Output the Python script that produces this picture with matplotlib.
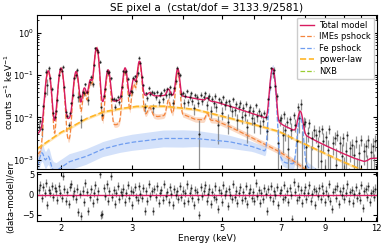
import numpy as np
import matplotlib
matplotlib.use("Agg")
import matplotlib.pyplot as plt

# ---- values (keV, counts s^-1 keV^-1) ----
pl_e = [1.76, 2.0, 2.11, 2.31, 2.54, 2.79, 3.07, 3.58, 4.3, 5.2, 6.23, 6.9, 7.7, 9.7, 10.5, 11.2, 12.0]
pl_v = [0.0019, 0.0044, 0.0057, 0.0093, 0.0134, 0.016, 0.0182, 0.0185, 0.0155, 0.0098, 0.0062, 0.0047, 0.0028, 0.001, 0.00072, 0.00056, 0.00045]

ime_e = [1.76, 1.94, 2.09, 2.23, 2.42, 2.55, 2.75, 2.97, 3.2, 3.47, 3.6, 3.75, 4.04, 4.3, 4.82, 5.2, 5.71, 6.23, 6.9, 7.7, 8.5, 12.0]
ime_v = [0.0014, 0.0024, 0.0028, 0.0038, 0.006, 0.0062, 0.0068, 0.0098, 0.012, 0.0105, 0.011, 0.012, 0.0115, 0.009, 0.0085, 0.0062, 0.004, 0.0026, 0.0016, 0.0008, 0.0004, 0.00005]
ime_line_e = [1.865, 2.006, 2.185, 2.29, 2.37, 2.455, 2.62, 2.885, 3.03, 3.13, 3.32, 3.69, 3.89, 4.6]
ime_line_amp = [0.12, 0.138, 0.11, 0.035, 0.06, 0.42, 0.11, 0.12, 0.05, 0.18, 0.006, 0.014, 0.11, 0.004]
ime_line_sig = [0.022, 0.023, 0.024, 0.023, 0.024, 0.025, 0.026, 0.028, 0.028, 0.03, 0.032, 0.032, 0.034, 0.036]

fe_e = [1.76, 1.95, 2.1, 2.31, 2.54, 2.8, 3.0, 3.58, 4.3, 5.2, 5.9, 6.3, 6.9, 7.2, 8.1, 8.5, 9.0, 12.0]
fe_v = [0.0007, 0.00055, 0.0009, 0.0012, 0.0018, 0.0023, 0.0026, 0.0032, 0.0032, 0.0027, 0.0021, 0.0017, 0.001, 0.00085, 0.0007, 0.0005, 0.00035, 0.0001]
fe_line_e = [1.80, 1.865, 6.67, 6.97, 7.8]
fe_line_amp = [0.0008, 0.0006, 0.135, 0.0002, 0.0098]
fe_line_sig = [0.02, 0.02, 0.075, 0.04, 0.09]

nxb_e = [1.76, 6.0, 9.0, 10.5, 11.2, 11.6, 12.0]
nxb_v = [0.0001, 0.00012, 0.00015, 0.00012, 0.00015, 0.0004, 0.0005]

fe_band_e = [1.76, 2.5, 3.0, 4.0, 5.0, 6.0, 8.0, 12.0]
fe_band = [1.6, 1.5, 1.55, 1.6, 1.45, 1.3, 1.3, 1.3]

relerr_e = [1.76, 1.9, 2.2, 2.6, 3.0, 3.5, 4.0, 5.0, 6.0, 6.6, 7.0, 8.0, 9.0, 10.0, 11.0, 12.0]
relerr = [0.3, 0.15, 0.12, 0.11, 0.11, 0.13, 0.15, 0.2, 0.25, 0.12, 0.35, 0.45, 0.6, 0.75, 0.9, 1.0]

# (data-model)/err per bin, left to right
resid = [1.2, 2.4, -0.8, 1.9, 0.5, 2.8, -2.6, 1.1, 0.3, 2.2, -0.5, 1.6, 0.8, -1.4, 2.0, 0.4, -0.9, 4.6, 1.3, -1.7,
         0.6, -2.3, 1.8, 2.7, -0.4, 0.9, -1.2, 1.5, -4.4, 0.2, -5.4, 1.0, -1.8, 2.9, 0.7, -4.0, -0.6, 1.4, -2.1, 0.5,
         2.3, -1.0, 0.8, 5.0, -5.2, -4.8, 1.7, -0.3, 2.5, -1.5, 0.9, 4.6, -0.7, 1.2, -2.4, 0.4, 2.1, -1.1, 0.6, -0.2,
         1.5, -1.9, 0.3, 2.4, -0.8, 1.0, -2.7, 0.7, 1.9, -0.5, -1.3, 2.2, 0.1, -0.9, 1.6, -4.2, 0.8, -1.6, 2.6, -0.4,
         0.9, -4.0, 1.3, -0.6, 2.0, -2.2, 0.5, 1.1, -1.4, 2.7, -0.3, 0.6, -1.8, 1.9, 0.2, -2.5, 1.4, -0.1, 0.8, -1.2,
         2.1, -0.7, 1.0, -2.0, 0.4, 2.5, -1.5, 0.3, 1.7, -0.9, -2.6, 1.2, 0.6, -1.1, -5.0, 1.8, -0.4, 0.9, 2.3, -1.7,
         0.2, 1.5, -2.3, 0.7, -0.5, 2.0, -1.2, -3.6, 1.1, 0.5, -1.9, 2.4, -0.2, 0.8, -2.8, 1.3, 0.0, -1.0, 2.6, -0.6,
         1.0, -2.1, 0.4, 1.8, -1.3, 0.7, -0.8, 2.2, -2.4, 0.3, 1.5, -0.9, 0.6, -1.6, 2.9, -0.3, 1.2, -2.0, 0.5, -1.1,
         1.7, 0.2, -4.0, 1.4, -0.7, 2.1, -1.5, 0.8, -0.2, 1.9, -2.6, 0.4, 1.1, -1.2, 2.3, -0.5, 0.9, -1.8, 1.6, -0.1,
         -6.0, 3.0, 0.7, -1.4, 2.0, -0.6, 1.2, -2.2, 0.3, 1.8, -1.0, 0.5, 2.4, -1.7, 0.1, 1.3, -2.5, 0.8, -0.4, 1.6,
         -1.1, 2.2, 0.4, -1.9, 1.0, -0.3, 2.7, -1.5, -3.6, 0.6, 1.4, -0.8, 2.0, -2.3, 0.9, -0.2, 1.7, -1.2, 0.3, 2.5,
         -1.6, 0.7, 1.1, -2.0, 0.2, 1.9, -0.9, 0.5, -1.4, 2.3, -3.3, 0.8, 1.3, -0.6, 2.0, -1.8, 0.4, 1.0, -0.7, 1.5]

C_TOT = "#d81b60"
C_IME = "#f4843c"
C_FE = "#6f9df0"
C_PL = "#ffb627"
C_NXB = "#9acd32"


def logint(E, xe, xv):
    return 10 ** np.interp(np.log10(E), np.log10(xe), np.log10(xv))


def component(E, ce, cv, le=(), la=(), ls=()):
    y = logint(E, ce, cv)
    for c, a, s in zip(le, la, ls):
        y = y + a * np.exp(-0.5 * ((E - c) / s) ** 2)
    return y


def models(E):
    pl = logint(E, pl_e, pl_v)
    ime = component(E, ime_e, ime_v, ime_line_e, ime_line_amp, ime_line_sig)
    fe = component(E, fe_e, fe_v, fe_line_e, fe_line_amp, fe_line_sig)
    nxb = logint(E, nxb_e, nxb_v)
    return ime, fe, pl, nxb, ime + fe + pl + nxb


E = np.geomspace(1.74, 12.2, 3000)
ime, fe, pl, nxb, tot = models(E)

Eb = np.geomspace(1.77, 11.95, len(resid))
r = np.array(resid)
tot_b = models(Eb)[4]
err_b = tot_b * np.interp(Eb, relerr_e, relerr)
data_b = tot_b + r * err_b

fig = plt.figure(figsize=(3.88, 2.46), dpi=100)
ax = fig.add_axes([0.0954, 0.313, 0.876, 0.626])
axr = fig.add_axes([0.0954, 0.1016, 0.876, 0.199], sharex=ax)

fb = np.interp(E, fe_band_e, fe_band)
ax.fill_between(E, fe / fb, fe * fb, color=C_FE, alpha=0.3, lw=0)
ax.fill_between(E, ime / 1.16, ime * 1.16, color=C_IME, alpha=0.3, lw=0)
ax.fill_between(E, pl / 1.08, pl * 1.08, color=C_PL, alpha=0.35, lw=0)

ax.errorbar(Eb, data_b, yerr=err_b, fmt=".", color="black", ms=1.2,
            ecolor="#6e6e6e", elinewidth=0.9, alpha=0.75)

ax.plot(E, ime, "--", color=C_IME, lw=0.9, label="IMEs pshock")
ax.plot(E, fe, "--", color=C_FE, lw=0.9, label="Fe pshock")
ax.plot(E, pl, "--", color=C_PL, lw=1.2, label="power-law")
ax.plot(E, nxb, "--", color=C_NXB, lw=0.9, label="NXB")
ax.plot(E, tot, "-", color=C_TOT, lw=1.0, label="Total model")

h, l = ax.get_legend_handles_labels()
order = [4, 0, 1, 2, 3]
ax.legend([h[i] for i in order], [l[i] for i in order], loc="upper right",
          fontsize=6, handlelength=1.7, handletextpad=0.6, labelspacing=0.3,
          borderpad=0.4, borderaxespad=0.3, framealpha=1.0)

ax.set_xscale("log")
ax.set_yscale("log")
ax.set_xlim(1.75, 12.05)
ax.set_ylim(6.1e-4, 2.6)
ax.set_ylabel("counts s$^{-1}$ keV$^{-1}$", fontsize=6.3, labelpad=0)
ax.yaxis.set_label_coords(-0.065, 0.5)
ax.set_title("SE pixel a  (cstat/dof = 3133.9/2581)", fontsize=7.5, pad=3)

axr.errorbar(Eb, r, yerr=1.0, fmt=".", color="black", ms=1.2,
             ecolor="#6e6e6e", elinewidth=0.9, alpha=0.75)
axr.axhline(0, color=C_TOT, lw=1.0)
axr.set_ylim(-6.6, 5.6)
axr.set_yticks([-5, 0, 5])
axr.set_xlabel("Energy (keV)", fontsize=6.5, labelpad=1)
axr.set_ylabel("(data-model)/err", fontsize=6.3)
axr.yaxis.set_label_coords(-0.065, 0.5)

ticks = [2, 3, 4, 5, 6, 7, 8, 9, 10, 11, 12]
labels = ["2", "3", "", "5", "", "7", "", "9", "", "", "12"]
axr.set_xticks(ticks)
axr.set_xticklabels(labels)
axr.xaxis.set_minor_locator(matplotlib.ticker.NullLocator())
ax.xaxis.set_minor_locator(matplotlib.ticker.NullLocator())
plt.setp(ax.get_xticklabels(), visible=False)

for a in (ax, axr):
    a.tick_params(which="both", direction="in", top=True, right=True, labelsize=6, pad=2)
    a.tick_params(which="major", length=3)
    a.tick_params(which="minor", length=1.5)
    for s in a.spines.values():
        s.set_linewidth(0.8)

fig.savefig("out.png", dpi=100)
